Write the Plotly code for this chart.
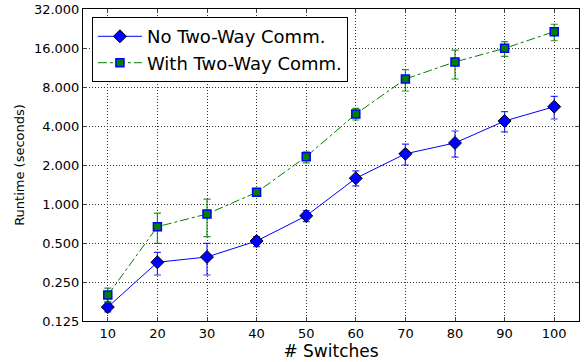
import plotly.graph_objects as go

switches = [10, 20, 30, 40, 50, 60, 70, 80, 90, 100]

no_two_way = [0.16, 0.355, 0.39, 0.518, 0.81, 1.58, 2.44, 2.96, 4.37, 5.64]
no_two_way_hi = [0.175, 0.424, 0.497, 0.56, 0.89, 1.8, 2.9, 3.66, 5.16, 6.78]
no_two_way_lo = [0.147, 0.283, 0.283, 0.468, 0.73, 1.38, 2.0, 2.3, 3.6, 4.53]

with_two_way = [0.198, 0.668, 0.837, 1.23, 2.32, 4.95, 9.22, 12.5, 15.9, 21.4]
with_two_way_hi = [0.224, 0.85, 1.09, 1.3, 2.53, 5.47, 10.9, 15.4, 17.9, 24.4]
with_two_way_lo = [0.175, 0.497, 0.56, 1.17, 2.08, 4.45, 7.45, 9.22, 13.8, 18.2]

y_ticks = [0.125, 0.25, 0.5, 1, 2, 4, 8, 16, 32]
y_tick_labels = ["0.125", "0.250", "0.500", "1.000", "2.000", "4.000", "8.000", "16.000", "32.000"]

fig = go.Figure()

fig.add_trace(go.Scatter(
    x=switches, y=no_two_way, name="No Two-Way Comm.",
    mode="lines+markers",
    line=dict(color="#0000ff", width=1),
    marker=dict(symbol="diamond", size=10, color="#0000ff", line=dict(color="black", width=1)),
    error_y=dict(type="data", symmetric=False,
                 array=[h - v for h, v in zip(no_two_way_hi, no_two_way)],
                 arrayminus=[v - l for l, v in zip(no_two_way_lo, no_two_way)],
                 color="rgba(0,0,255,0.8)", thickness=1.2, width=3.5),
))

fig.add_trace(go.Scatter(
    x=switches, y=with_two_way, name="With Two-Way Comm.",
    mode="lines+markers",
    line=dict(color="#008000", width=1, dash="dashdot"),
    marker=dict(symbol="square", size=8, color="#008000", line=dict(color="#0000ff", width=1.5)),
    error_y=dict(type="data", symmetric=False,
                 array=[h - v for h, v in zip(with_two_way_hi, with_two_way)],
                 arrayminus=[v - l for l, v in zip(with_two_way_lo, with_two_way)],
                 color="rgba(0,128,0,0.85)", thickness=1.2, width=3.5),
))

fig.update_layout(
    width=584, height=362,
    margin=dict(l=83, r=5, t=9, b=41),
    paper_bgcolor="white", plot_bgcolor="white",
    font=dict(family="DejaVu Sans", color="black", size=13),
    showlegend=True,
    legend=dict(x=0.018, y=0.974, xanchor="left", yanchor="top",
                bgcolor="white", bordercolor="black", borderwidth=1,
                font=dict(size=18), itemwidth=44, tracegroupgap=0),
    xaxis=dict(range=[5, 105], tickvals=switches, ticks="inside", ticklen=4,
               showline=True, linecolor="black", linewidth=1, mirror="ticks",
               showgrid=True, gridcolor="#333333", griddash="1px,2px", gridwidth=1,
               zeroline=False, automargin=False,
               title=dict(text="# Switches", font=dict(size=17), standoff=2),
               tickfont=dict(size=13)),
    yaxis=dict(type="log", range=[-0.90309, 1.50515], tickvals=y_ticks, ticktext=y_tick_labels,
               ticks="inside", ticklen=4,
               showline=True, linecolor="black", linewidth=1, mirror="ticks",
               showgrid=True, gridcolor="#333333", griddash="1px,2px", gridwidth=1,
               zeroline=False, automargin=False,
               title=dict(text="Runtime (seconds)", font=dict(size=13), standoff=6),
               tickfont=dict(size=13)),
)

fig.write_html("out.html")
